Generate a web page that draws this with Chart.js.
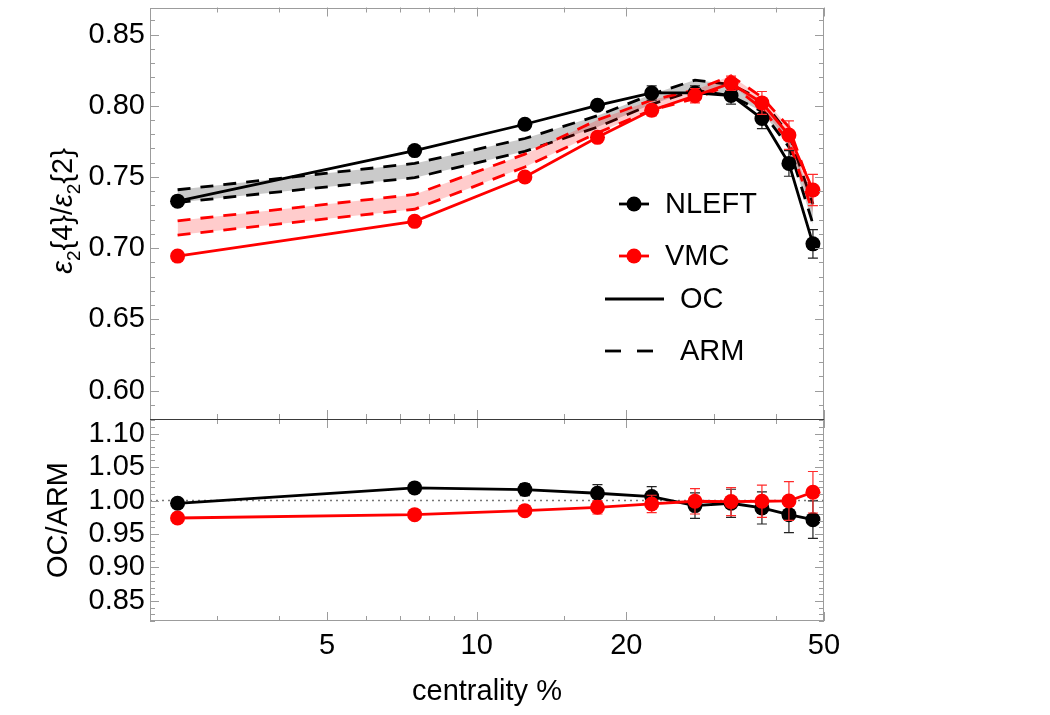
<!DOCTYPE html>
<html>
<head>
<meta charset="utf-8">
<script src="https://cdn.jsdelivr.net/npm/chart.js@4.4.0/dist/chart.umd.min.js"></script>
<style>
html,body{margin:0;padding:0;background:#fff;}
#wrap{position:relative;width:1050px;height:715px;background:#fff;}
#wrap canvas{position:absolute;left:0;top:0;}
</style>
</head>
<body>
<div id="wrap">
<canvas id="cTop" width="1050" height="715"></canvas>
<canvas id="cBot" width="1050" height="715"></canvas>
</div>
<script>
// ---------------- data ----------------
const centrality = [2.5, 7.5, 12.5, 17.5, 22.5, 27.5, 32.5, 37.5, 42.5, 47.5];

const nleftOC     = [0.733, 0.7685, 0.787, 0.8003, 0.809, 0.809, 0.8072, 0.791, 0.7595, 0.703];
const nleftOCErr  = [0.001, 0.001, 0.002, 0.003, 0.005, 0.005, 0.006, 0.007, 0.009, 0.010];
const nleftARMHi  = [0.741, 0.7595, 0.777, 0.793, 0.808, 0.818, 0.815, 0.804, 0.780, 0.731];
const nleftARMLo  = [0.732, 0.7495, 0.768, 0.785, 0.801, 0.811, 0.807, 0.796, 0.771, 0.717];

const vmcOC       = [0.6944, 0.7188, 0.750, 0.7778, 0.7968, 0.807, 0.8158, 0.802, 0.7794, 0.7408];
const vmcOCErr    = [0.001, 0.001, 0.002, 0.002, 0.004, 0.005, 0.005, 0.008, 0.010, 0.011];
const vmcARMHi    = [0.7192, 0.7377, 0.766, 0.790, 0.804, 0.811, 0.821, 0.806, 0.785, 0.738];
const vmcARMLo    = [0.7092, 0.7273, 0.757, 0.781, 0.797, 0.805, 0.815, 0.798, 0.775, 0.725];

const nleftRatio    = [0.996, 1.019, 1.0165, 1.011, 1.006, 0.9925, 0.996, 0.989, 0.979, 0.9715];
const nleftRatioErr = [0.002, 0.004, 0.009, 0.013, 0.015, 0.019, 0.021, 0.024, 0.027, 0.028];
const vmcRatio      = [0.974, 0.979, 0.985, 0.990, 0.995, 0.999, 0.9985, 0.999, 0.9995, 1.0125];
const vmcRatioErr   = [0.002, 0.003, 0.006, 0.010, 0.013, 0.019, 0.021, 0.024, 0.029, 0.031];

const refLineX = [2.2, 50];
const refLineY = [1.0, 1.0];

const xTickLabels   = [5, 10, 20, 50];
const xMinorTicks   = [3, 4, 5, 6, 7, 8, 9, 10, 15, 20, 30, 40, 50];
const yTopTickLabels = [0.60, 0.65, 0.70, 0.75, 0.80, 0.85];
const yBotTickLabels = [0.85, 0.90, 0.95, 1.00, 1.05, 1.10];

const legendNames = ['NLEFT', 'VMC', 'OC', 'ARM'];
const xTitle = 'centrality %';
const yBotTitle = 'OC/ARM';

// ---------------- layout ----------------
const W = 1050, H = 715;
const PL = 150, PR = 824, PT = 3, PM = 419, PB = 621;
const XMIN = 2.2, XMAX = 50;
const FONT = "'Liberation Sans', Arial, Helvetica, sans-serif";
const FS = 29;
const BLACK = '#000000', RED = '#ff0000';
const LW = 2.8, PR_ = 7.5, DASH = [13, 10];

const pts = (ys, xs) => (xs || centrality).map((c, i) => ({x: c, y: ys[i]}));

// frame + inward ticks
const framePlugin = {
  id: 'frameTicks',
  afterDraw(chart, args, opts) {
    const {ctx, chartArea: a, scales} = chart;
    const xs = scales.x, ys = scales.y;
    ctx.save();
    ctx.strokeStyle = '#9c9c9c';
    ctx.lineWidth = 1;
    const seg = (x1, y1, x2, y2) => { ctx.beginPath(); ctx.moveTo(x1, y1); ctx.lineTo(x2, y2); ctx.stroke(); };
    xMinorTicks.forEach(v => {
      const px = Math.round(xs.getPixelForValue(v)) + 0.5;
      const L = xTickLabels.includes(v) ? 9 : 5;
      seg(px, a.top, px, a.top + L);
      seg(px, a.bottom, px, a.bottom - L);
    });
    const lo = Math.ceil(ys.min * 100 - 1e-6), hi = Math.floor(ys.max * 100 + 1e-6);
    for (let k = lo; k <= hi; k++) {
      const py = Math.round(ys.getPixelForValue(k / 100)) + 0.5;
      const L = (k % 5 === 0) ? 9 : 5;
      seg(a.left, py, a.left + L, py);
      seg(a.right, py, a.right - L, py);
    }
    ctx.strokeRect(Math.round(a.left) + 0.5, Math.round(a.top) + 0.5,
                   Math.round(a.right - a.left) - 1, Math.round(a.bottom - a.top) - 1);
    if (opts.divider) {
      ctx.strokeStyle = '#3a3a3a';
      seg(a.left, Math.round(a.top) + 0.5, a.right, Math.round(a.top) + 0.5);
    }
    ctx.restore();
  }
};

// error bars drawn just before their dataset
const errPlugin = {
  id: 'errBars',
  beforeDatasetDraw(chart, args) {
    const ds = chart.data.datasets[args.index];
    if (!ds.errors) return;
    const {ctx} = chart;
    const xs = chart.scales.x, ys = chart.scales.y;
    ctx.save();
    ctx.strokeStyle = ds.errColor;
    ctx.lineWidth = 1.2;
    ds.data.forEach((p, i) => {
      const e = ds.errors[i];
      const px = xs.getPixelForValue(p.x);
      const y1 = ys.getPixelForValue(p.y + e), y2 = ys.getPixelForValue(p.y - e);
      ctx.beginPath();
      ctx.moveTo(px, y1); ctx.lineTo(px, y2);
      ctx.moveTo(px - 5, y1); ctx.lineTo(px + 5, y1);
      ctx.moveTo(px - 5, y2); ctx.lineTo(px + 5, y2);
      ctx.stroke();
    });
    ctx.restore();
  }
};

// legend + rotated y title of top panel
const topDecor = {
  id: 'topDecor',
  afterDraw(chart) {
    const ctx = chart.ctx;
    ctx.save();
    ctx.font = FS + 'px ' + FONT;
    ctx.textBaseline = 'middle';
    ctx.textAlign = 'left';
    [[legendNames[0], BLACK, 204], [legendNames[1], RED, 256]].forEach(([t, c, y]) => {
      ctx.strokeStyle = c; ctx.fillStyle = c; ctx.lineWidth = LW; ctx.setLineDash([]);
      ctx.beginPath(); ctx.moveTo(619, y); ctx.lineTo(649, y); ctx.stroke();
      ctx.beginPath(); ctx.arc(634, y, PR_, 0, Math.PI * 2); ctx.fill();
      ctx.fillStyle = BLACK;
      ctx.fillText(t, 665, y + 1);
    });
    ctx.strokeStyle = BLACK; ctx.lineWidth = LW;
    ctx.beginPath(); ctx.moveTo(605, 299); ctx.lineTo(664, 299); ctx.stroke();
    ctx.fillStyle = BLACK;
    ctx.fillText(legendNames[2], 680, 300);
    ctx.setLineDash([16, 16]);
    ctx.beginPath(); ctx.moveTo(605, 351); ctx.lineTo(657, 351); ctx.stroke();
    ctx.setLineDash([]);
    ctx.fillText(legendNames[3], 680, 352);

    const parts = [
      {t: 'ε', f: 'italic ' + FS + 'px ' + FONT, dy: 0},
      {t: '2', f: '19px ' + FONT, dy: 8},
      {t: '{4}/', f: FS + 'px ' + FONT, dy: 0},
      {t: 'ε', f: 'italic ' + FS + 'px ' + FONT, dy: 0},
      {t: '2', f: '19px ' + FONT, dy: 8},
      {t: '{2}', f: FS + 'px ' + FONT, dy: 0}
    ];
    let total = 0;
    parts.forEach(p => { ctx.font = p.f; p.w = ctx.measureText(p.t).width; total += p.w; });
    const cy = (PT + PM) / 2;
    ctx.translate(62, cy);
    ctx.rotate(-Math.PI / 2);
    ctx.textBaseline = 'alphabetic';
    let x = -total / 2;
    parts.forEach(p => { ctx.font = p.f; ctx.fillText(p.t, x, 10 + p.dy); x += p.w; });
    ctx.restore();
  }
};

const tickFont = {family: FONT, size: FS};
const fitY = s => { s.width = PL; s.paddingTop = 0; s.paddingBottom = 0; };
const fitX = s => { s.height = H - PB; s.paddingLeft = 0; s.paddingRight = 0; };

function lineDs(label, ys, color, opts) {
  return Object.assign({
    label, data: pts(ys), borderColor: color, backgroundColor: color,
    borderWidth: LW, pointRadius: 0, pointHoverRadius: 0, tension: 0, fill: false
  }, opts || {});
}

// ---------------- top chart ----------------
new Chart(document.getElementById('cTop'), {
  type: 'line',
  data: {
    datasets: [
      lineDs('NLEFT ARM hi', nleftARMHi, BLACK, {borderDash: DASH, fill: '+1', backgroundColor: 'rgba(150,150,150,0.5)', order: 6}),
      lineDs('NLEFT ARM lo', nleftARMLo, BLACK, {borderDash: DASH, order: 5}),
      lineDs('VMC ARM hi', vmcARMHi, RED, {borderDash: DASH, fill: '+1', backgroundColor: 'rgba(255,0,0,0.2)', order: 4}),
      lineDs('VMC ARM lo', vmcARMLo, RED, {borderDash: DASH, order: 3}),
      lineDs('NLEFT OC', nleftOC, BLACK, {pointRadius: PR_, pointBorderWidth: 0, order: 2, errors: nleftOCErr, errColor: '#222'}),
      lineDs('VMC OC', vmcOC, RED, {pointRadius: PR_, pointBorderWidth: 0, order: 1, errors: vmcOCErr, errColor: '#ff2a2a'})
    ]
  },
  options: {
    responsive: false, animation: false, devicePixelRatio: 1,
    layout: {padding: {left: 0, top: PT, right: W - PR, bottom: H - PM}},
    plugins: {legend: {display: false}, tooltip: {enabled: false}, frameTicks: {divider: false}},
    scales: {
      x: {type: 'logarithmic', min: XMIN, max: XMAX, display: false},
      y: {
        type: 'linear', min: 0.58, max: 0.869,
        afterFit: fitY,
        afterBuildTicks: s => { s.ticks = yTopTickLabels.map(v => ({value: v})); },
        grid: {display: false, drawTicks: false, tickLength: 0},
        border: {display: false},
        ticks: {font: tickFont, color: BLACK, padding: 5, autoSkip: false, callback: v => Number(v).toFixed(2)}
      }
    }
  },
  plugins: [errPlugin, framePlugin, topDecor]
});

// ---------------- bottom chart ----------------
new Chart(document.getElementById('cBot'), {
  type: 'line',
  data: {
    datasets: [
      {label: 'ref', data: pts(refLineY, refLineX), borderColor: '#777', borderWidth: 1.5, borderDash: [2, 4],
       pointRadius: 0, tension: 0, fill: false, order: 9},
      lineDs('NLEFT OC/ARM', nleftRatio, BLACK, {pointRadius: PR_, pointBorderWidth: 0, order: 2, errors: nleftRatioErr, errColor: '#222'}),
      lineDs('VMC OC/ARM', vmcRatio, RED, {pointRadius: PR_, pointBorderWidth: 0, order: 1, errors: vmcRatioErr, errColor: '#ff2a2a'})
    ]
  },
  options: {
    responsive: false, animation: false, devicePixelRatio: 1,
    layout: {padding: {left: 0, top: PM, right: W - PR, bottom: 0}},
    plugins: {legend: {display: false}, tooltip: {enabled: false}, frameTicks: {divider: true}},
    scales: {
      x: {
        type: 'logarithmic', min: XMIN, max: XMAX,
        afterFit: fitX,
        afterBuildTicks: s => { s.ticks = xTickLabels.map(v => ({value: v})); },
        grid: {display: false, drawTicks: false, tickLength: 0},
        border: {display: false},
        ticks: {font: tickFont, color: BLACK, padding: 8, autoSkip: false, maxRotation: 0, minRotation: 0,
                callback: v => String(v)},
        title: {display: true, text: xTitle, font: {family: FONT, size: FS}, color: BLACK, padding: {top: 0, bottom: 6}}
      },
      y: {
        type: 'linear', min: 0.82, max: 1.122,
        afterFit: fitY,
        afterBuildTicks: s => { s.ticks = yBotTickLabels.map(v => ({value: v})); },
        grid: {display: false, drawTicks: false, tickLength: 0},
        border: {display: false},
        ticks: {font: tickFont, color: BLACK, padding: 5, autoSkip: false, callback: v => Number(v).toFixed(2)},
        title: {display: true, text: yBotTitle, font: {family: FONT, size: FS}, color: BLACK, padding: {top: 42, bottom: 0}}
      }
    }
  },
  plugins: [errPlugin, framePlugin]
});
</script>
</body>
</html>
